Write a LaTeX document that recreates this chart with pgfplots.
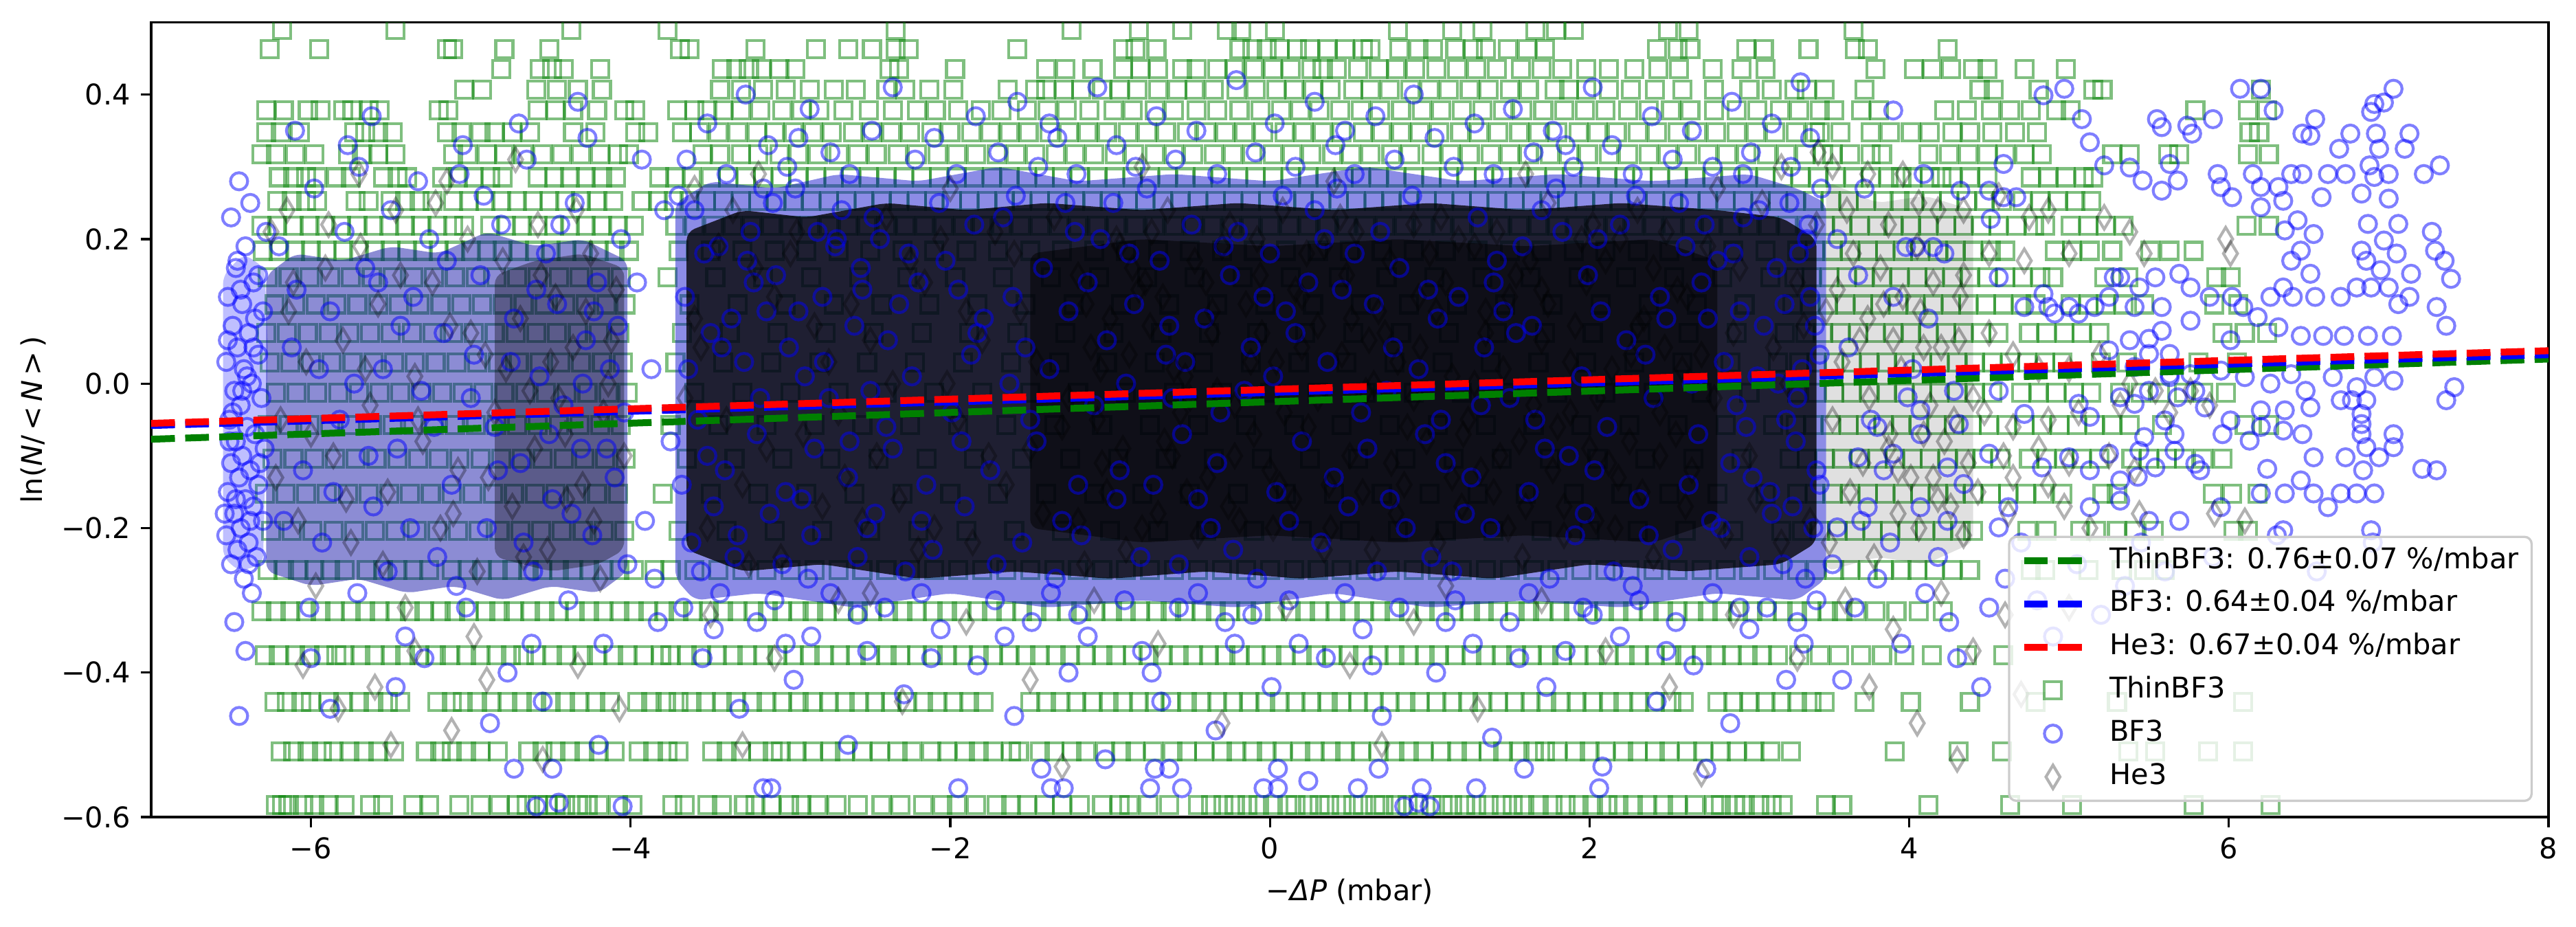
\documentclass[border=0pt]{standalone}
\usepackage{fontspec}
\setmainfont{DejaVu Sans}
\usepackage{pgfplots}
\pgfplotsset{compat=1.18}
\definecolor{mplgreen}{RGB}{0,128,0}
\definecolor{mplblue}{RGB}{0,0,255}
\definecolor{mplred}{RGB}{255,0,0}
\definecolor{navyA}{RGB}{0,0,160}
\definecolor{navyC}{RGB}{0,0,200}
\pgfplotsset{
 gsq/.style={only marks, mark=square, mark size=3bp, mark options={draw=mplgreen, draw opacity=0.5, line width=1bp}, forget plot},
 bci/.style={only marks, mark=o, mark size=3bp, mark options={draw=mplblue, draw opacity=0.5, line width=1bp}, forget plot},
 hdi/.style={only marks, mark=diamond, mark size=4.1bp, mark options={xscale=0.8, draw=black, draw opacity=0.3, line width=1bp}, forget plot},
 fitline/.style={line width=2.4bp, dash pattern=on 8.3bp off 3.6bp, forget plot},
 dense/.style={draw=none, rounded corners=3bp, forget plot},
}
\begin{document}
\begin{tikzpicture}
\begin{axis}[
 width=837.4bp, height=277.6bp, scale only axis,
 xmin=-7, xmax=8, ymin=-0.6, ymax=0.5,
 xtick={-6,-4,-2,0,2,4,6,8}, xticklabels={−6,−4,−2,0,2,4,6,8},
 ytick={-0.6,-0.4,-0.2,0,0.2,0.4}, yticklabels={−0.6,−0.4,−0.2,0.0,0.2,0.4},
 tick align=outside, xtick pos=lower, ytick pos=left, major tick length=3.5bp,
 major tick style={black, line width=0.8bp},
 axis line style={line width=0.8bp},
 tick label style={font=\fontsize{10}{12}\selectfont},
 xticklabel style={inner sep=0pt, yshift=-3.5bp},
 yticklabel style={inner sep=0pt, xshift=-3.5bp},
 label style={font=\fontsize{10}{12}\selectfont},
 xlabel={−\textit{ΔP} (mbar)},
 ylabel={ln(\textit{N}/\,<\,\textit{N}\,>\,)},
 xlabel style={at={(axis description cs:0.5,-0.0933)}, anchor=center},
 ylabel style={at={(axis description cs:-0.0493,0.5)}, anchor=center},
 clip marker paths=true,
 legend cell align=left,
 legend style={at={(1,0)}, anchor=south east, xshift=-5.5bp, yshift=5.3bp,
   draw=black!20, fill=white, fill opacity=0.8, text opacity=1, rounded corners=2.5bp, line width=0.8bp,
   font=\fontsize{10}{12}\selectfont, inner xsep=4bp, inner ysep=3bp, row sep=4.4bp,
   nodes={inner sep=0.5bp, text height=7.5bp, text depth=2.2bp},
   /tikz/every odd column/.append style={column sep=8bp}},
]
\addlegendimage{legend image code/.code={\draw[mplgreen, sharp corners, line width=2.4bp, dash pattern=on 8.3bp off 3.6bp] (0bp,0bp) -- (20.2bp,0bp);}}
\addlegendentry{ThinBF3: 0.76±0.07 \%/mbar}
\addlegendimage{legend image code/.code={\draw[mplblue, sharp corners, line width=2.4bp, dash pattern=on 8.3bp off 3.6bp] (0bp,0bp) -- (20.2bp,0bp);}}
\addlegendentry{BF3: 0.64±0.04 \%/mbar}
\addlegendimage{legend image code/.code={\draw[mplred, sharp corners, line width=2.4bp, dash pattern=on 8.3bp off 3.6bp] (0bp,0bp) -- (20.2bp,0bp);}}
\addlegendentry{He3: 0.67±0.04 \%/mbar}
\addlegendimage{legend image code/.code={\draw[mplgreen, sharp corners, draw opacity=0.5, line width=1bp] (7.1bp,-3bp) rectangle (13.1bp,3bp);}}
\addlegendentry{ThinBF3}
\addlegendimage{legend image code/.code={\draw[mplblue, draw opacity=0.5, line width=1bp] (10.1bp,0bp) circle[radius=3bp];}}
\addlegendentry{BF3}
\addlegendimage{legend image code/.code={\draw[black, sharp corners, draw opacity=0.3, line width=1bp] (10.1bp,4.1bp) -- (12.56bp,0bp) -- (10.1bp,-4.1bp) -- (7.64bp,0bp) -- cycle;}}
\addlegendentry{He3}

% ---------------- ThinBF3 : quantised rows ----------------
\addplot[gsq] table[header=false, x index=0, y expr=-0.5835] {
-6.22
-6.18
-6.14
-6.05
-5.98
-5.89
-5.79
-5.63
-5.55
-5.36
-5.26
-5.07
-4.94
-4.82
-4.71
-4.65
-4.58
-4.52
-4.47
-4.41
-4.33
-4.27
-4.20
-4.08
-3.99
-3.74
-3.66
-3.52
-3.43
-3.29
-3.22
-3.12
-3.01
-2.93
-2.83
-2.71
-2.58
-2.43
-2.31
-2.17
-2.05
-1.96
-1.84
-1.71
-1.62
-1.52
-1.41
-1.30
-1.19
-1.05
-0.94
-0.88
-0.76
-0.63
-0.45
-0.37
-0.29
-0.22
-0.14
-0.07
0.02
0.11
0.16
0.24
0.31
0.37
0.45
0.52
0.58
0.66
0.71
0.79
0.86
0.93
1.01
1.08
1.14
1.22
1.29
1.37
1.45
1.52
1.59
1.68
1.77
1.85
1.93
2.02
2.11
2.18
2.27
2.36
2.46
2.55
2.66
2.78
2.82
2.91
2.97
3.06
3.14
3.21
3.48
3.58
4.12
4.63
5.02
5.78
6.26
};
\addplot[gsq] table[header=false, x index=0, y expr=-0.5094] {
-6.19
-6.11
-6.02
-5.93
-5.86
-5.76
-5.67
-5.58
-5.48
-5.28
-5.19
-5.12
-5.03
-4.94
-4.83
-4.64
-4.55
-4.47
-4.38
-4.29
-4.20
-4.10
-3.95
-3.86
-3.77
-3.70
-3.49
-3.40
-3.31
-3.20
-3.11
-3.06
-2.96
-2.86
-2.75
-2.66
-2.55
-2.44
-2.33
-2.24
-2.12
-2.02
-1.91
-1.82
-1.73
-1.62
-1.57
-1.44
-1.35
-1.24
-1.15
-1.03
-0.93
-0.84
-0.73
-0.61
-0.52
-0.41
-0.30
-0.21
-0.11
-0.02
0.08
0.19
0.28
0.38
0.47
0.57
0.68
0.78
0.87
0.96
1.07
1.17
1.26
1.37
1.46
1.56
1.65
1.72
1.80
1.91
2.00
2.10
2.21
2.30
2.41
2.50
2.61
2.71
2.82
2.92
3.03
3.13
3.26
3.91
4.31
4.58
5.37
5.54
5.87
6.09
};
\addplot[gsq] table[header=false, x index=0, y expr=-0.4404] {
-6.23
-6.15
-6.06
-6.00
-5.89
-5.80
-5.70
-5.61
-5.52
-5.44
-5.21
-5.12
-5.05
-4.96
-4.87
-4.77
-4.68
-4.59
-4.50
-4.41
-4.32
-4.22
-4.13
-3.96
-3.87
-3.78
-3.70
-3.62
-3.53
-3.43
-3.34
-3.24
-3.15
-3.05
-2.95
-2.86
-2.76
-2.66
-2.57
-2.47
-2.37
-2.27
-2.17
-2.08
-1.98
-1.88
-1.79
-1.50
-1.40
-1.31
-1.21
-1.11
-1.01
-0.92
-0.82
-0.72
-0.62
-0.52
-0.43
-0.33
-0.23
-0.13
-0.03
0.06
0.16
0.26
0.36
0.45
0.55
0.65
0.75
0.85
0.94
1.04
1.14
1.24
1.33
1.43
1.53
1.63
1.73
1.82
1.92
2.02
2.12
2.21
2.31
2.41
2.51
2.59
2.80
2.90
3.00
3.10
3.20
3.30
3.39
3.47
3.72
4.01
4.38
4.79
5.30
6.09
};
\addplot[gsq] table[header=false, x index=0, y expr=-0.3759] {
-6.29
-6.20
-6.10
-6.01
-5.92
-5.84
-5.79
-5.69
-5.60
-5.50
-5.41
-5.32
-5.22
-5.13
-5.03
-4.94
-4.84
-4.75
-4.67
-4.59
-4.49
-4.40
-4.30
-4.21
-4.11
-4.02
-3.92
-3.81
-3.75
-3.65
-3.56
-3.46
-3.36
-3.27
-3.17
-3.08
-2.98
-2.88
-2.79
-2.69
-2.59
-2.50
-2.40
-2.31
-2.21
-2.11
-2.02
-1.92
-1.82
-1.73
-1.63
-1.53
-1.44
-1.34
-1.25
-1.15
-1.05
-0.96
-0.86
-0.76
-0.67
-0.57
-0.48
-0.38
-0.28
-0.19
-0.09
0.01
0.10
0.20
0.29
0.39
0.49
0.58
0.68
0.78
0.87
0.97
1.06
1.16
1.26
1.35
1.45
1.54
1.64
1.74
1.83
1.93
2.03
2.12
2.22
2.31
2.41
2.51
2.60
2.70
2.79
2.89
2.99
3.08
3.18
3.31
3.44
3.56
3.70
3.83
3.97
4.14
4.36
4.59
};
\addplot[gsq] table[header=false, x index=0, y expr=-0.3153] {
-6.31
-6.22
-6.13
-6.03
-5.94
-5.85
-5.75
-5.66
-5.57
-5.47
-5.38
-5.29
-5.19
-5.10
-5.01
-4.91
-4.82
-4.73
-4.63
-4.54
-4.45
-4.35
-4.26
-4.17
-4.07
-3.98
-3.89
-3.79
-3.70
-3.61
-3.51
-3.42
-3.33
-3.23
-3.14
-3.05
-2.95
-2.86
-2.77
-2.67
-2.58
-2.49
-2.39
-2.30
-2.21
-2.11
-2.02
-1.93
-1.83
-1.74
-1.65
-1.55
-1.46
-1.37
-1.27
-1.18
-1.09
-0.99
-0.90
-0.81
-0.71
-0.62
-0.53
-0.43
-0.34
-0.25
-0.15
-0.06
0.03
0.13
0.22
0.31
0.41
0.50
0.59
0.69
0.78
0.87
0.97
1.06
1.15
1.25
1.34
1.43
1.53
1.62
1.71
1.81
1.90
1.99
2.09
2.18
2.27
2.37
2.46
2.55
2.65
2.74
2.83
2.93
3.02
3.11
3.21
3.30
3.39
3.49
3.58
3.67
3.79
3.92
4.06
4.21
};
\addplot[gsq] table[header=false, x index=0, y expr=-0.2581] {
-6.27
-6.17
-6.08
-5.98
-5.88
-5.79
-5.65
-5.55
-5.46
-5.36
-5.26
-5.12
-5.02
-4.93
-4.83
-4.74
-4.64
-4.55
-4.45
-4.36
-4.26
-4.17
-4.07
-3.98
-3.85
-3.75
-3.60
-3.45
-3.30
-3.15
-3.00
-2.85
-2.70
-2.55
-2.40
-2.25
-2.10
-1.95
-1.80
-1.65
-1.50
-1.35
-1.20
-1.05
-0.90
-0.75
-0.60
-0.45
-0.30
-0.15
0.00
0.15
0.30
0.45
0.60
0.75
0.90
1.05
1.20
1.35
1.50
1.65
1.80
1.95
2.10
2.25
2.40
2.55
2.70
2.85
3.00
3.15
3.30
3.42
3.53
3.63
3.74
3.84
3.95
4.05
4.16
4.27
4.38
4.76
4.85
5.12
5.33
5.47
5.60
};
\addplot[gsq] table[header=false, x index=0, y expr=-0.2040] {
-6.25
-6.12
-5.99
-5.86
-5.73
-5.60
-5.47
-5.34
-5.21
-5.08
-4.95
-4.82
-4.69
-4.56
-4.43
-4.30
-4.17
-4.04
-3.70
-3.40
-3.10
-2.80
-2.50
-2.20
-1.90
-1.60
-1.30
-1.00
-0.70
-0.40
-0.10
0.20
0.50
0.80
1.10
1.40
1.70
2.00
2.30
2.60
2.90
3.20
3.33
3.44
3.55
3.66
3.77
3.88
3.99
4.10
4.21
4.32
4.40
4.74
4.86
5.07
5.17
5.30
5.41
5.53
6.03
6.12
};
\addplot[gsq] table[header=false, x index=0, y expr=-0.1527] {
-6.29
-6.16
-6.03
-5.90
-5.77
-5.64
-5.51
-5.38
-5.25
-5.12
-4.99
-4.86
-4.73
-4.60
-4.47
-4.34
-4.21
-4.08
-3.80
-3.50
-3.20
-2.90
-2.60
-2.30
-2.00
-1.70
-1.40
-1.10
-0.80
-0.50
-0.20
0.10
0.40
0.70
1.00
1.30
1.60
1.90
2.20
2.50
2.80
3.10
3.30
3.41
3.52
3.63
3.74
3.85
3.96
4.07
4.18
4.29
4.40
4.51
4.62
4.73
4.84
4.96
5.21
5.30
5.90
6.02
6.18
};
\addplot[gsq] table[header=false, x index=0, y expr=-0.1040] {
-6.24
-6.11
-5.98
-5.85
-5.72
-5.59
-5.46
-5.33
-5.20
-5.07
-4.94
-4.81
-4.68
-4.55
-4.42
-4.29
-4.16
-4.03
-3.65
-3.35
-3.05
-2.75
-2.45
-2.15
-1.85
-1.55
-1.25
-0.95
-0.65
-0.35
-0.05
0.25
0.55
0.85
1.15
1.45
1.75
2.05
2.35
2.65
2.95
3.25
3.36
3.47
3.58
3.69
3.80
3.91
4.02
4.13
4.24
4.35
4.46
4.57
4.75
4.86
4.97
5.08
5.19
5.39
5.50
5.61
5.72
5.84
5.96
};
\addplot[gsq] table[header=false, x index=0, y expr=-0.0574] {
-6.27
-6.14
-6.01
-5.88
-5.75
-5.62
-5.49
-5.36
-5.23
-5.10
-4.97
-4.84
-4.71
-4.58
-4.45
-4.32
-4.19
-4.06
-3.75
-3.45
-3.15
-2.85
-2.55
-2.25
-1.95
-1.65
-1.35
-1.05
-0.75
-0.45
-0.15
0.15
0.45
0.75
1.05
1.35
1.65
1.95
2.25
2.55
2.85
3.15
3.29
3.40
3.51
3.62
3.73
3.84
3.95
4.06
4.17
4.28
4.39
4.50
4.61
4.72
4.83
4.94
5.05
5.16
5.27
5.38
5.58
6.10
6.25
};
\addplot[gsq] table[header=false, x index=0, y expr=-0.0130] {
-6.22
-6.09
-5.96
-5.83
-5.70
-5.57
-5.44
-5.31
-5.18
-5.05
-4.92
-4.79
-4.66
-4.53
-4.40
-4.27
-4.14
-4.02
-3.60
-3.30
-3.00
-2.70
-2.40
-2.10
-1.80
-1.50
-1.20
-0.90
-0.60
-0.30
0.00
0.30
0.60
0.90
1.20
1.50
1.80
2.10
2.40
2.70
3.00
3.30
3.42
3.53
3.64
3.75
3.86
3.97
4.08
4.19
4.30
4.41
4.52
4.70
4.81
4.92
5.03
5.14
5.32
5.45
5.57
5.72
5.84
5.98
};
\addplot[gsq] table[header=false, x index=0, y expr=0.0296] {
-6.26
-6.13
-6.00
-5.87
-5.74
-5.61
-5.48
-5.35
-5.22
-5.09
-4.96
-4.83
-4.70
-4.57
-4.44
-4.31
-4.18
-4.05
-3.72
-3.42
-3.12
-2.82
-2.52
-2.22
-1.92
-1.62
-1.32
-1.02
-0.72
-0.42
-0.12
0.18
0.48
0.78
1.08
1.38
1.68
1.98
2.28
2.58
2.88
3.18
3.31
3.42
3.53
3.64
3.75
3.86
3.97
4.08
4.19
4.30
4.41
4.52
4.63
4.74
4.85
4.96
5.20
5.36
5.81
6.05
};
\addplot[gsq] table[header=false, x index=0, y expr=0.0704] {
-6.28
-6.15
-6.02
-5.89
-5.76
-5.63
-5.50
-5.37
-5.24
-5.11
-4.98
-4.85
-4.72
-4.59
-4.46
-4.33
-4.20
-4.07
-3.68
-3.38
-3.08
-2.78
-2.48
-2.18
-1.88
-1.58
-1.28
-0.98
-0.68
-0.38
-0.08
0.22
0.52
0.82
1.12
1.42
1.72
2.02
2.32
2.62
2.92
3.22
3.35
3.46
3.57
3.68
3.79
3.90
4.01
4.12
4.23
4.34
4.45
4.56
4.75
4.86
4.97
5.08
5.19
5.96
6.10
6.24
};
\addplot[gsq] table[header=false, x index=0, y expr=0.1096] {
-6.23
-6.10
-5.97
-5.84
-5.71
-5.58
-5.45
-5.32
-5.19
-5.06
-4.93
-4.80
-4.67
-4.54
-4.41
-4.28
-4.15
-4.03
-3.63
-3.33
-3.03
-2.73
-2.43
-2.13
-1.83
-1.53
-1.23
-0.93
-0.63
-0.33
-0.03
0.27
0.57
0.87
1.17
1.47
1.77
2.07
2.37
2.67
2.97
3.27
3.38
3.49
3.60
3.71
3.82
3.93
4.04
4.15
4.26
4.37
4.48
4.59
4.70
4.79
5.01
5.12
5.23
5.34
5.47
5.91
6.06
};
\addplot[gsq] table[header=false, x index=0, y expr=0.1474] {
-6.27
-6.14
-6.01
-5.88
-5.75
-5.62
-5.49
-5.36
-5.23
-5.10
-4.97
-4.84
-4.71
-4.58
-4.45
-4.32
-4.19
-4.06
-3.77
-3.47
-3.17
-2.87
-2.57
-2.27
-1.97
-1.67
-1.37
-1.07
-0.77
-0.47
-0.17
0.13
0.43
0.73
1.03
1.33
1.63
1.93
2.23
2.53
2.83
3.13
3.28
3.39
3.50
3.61
3.72
3.83
3.94
4.05
4.16
4.27
4.38
4.49
4.60
4.71
4.82
4.90
5.22
5.37
5.92
6.01
};
\addplot[gsq] table[header=false, x index=0, y expr=0.1837] {
-6.30
-6.20
-6.10
-6.00
-5.90
-5.80
-5.70
-5.60
-5.50
-5.40
-5.30
-5.20
-5.10
-5.00
-4.90
-4.80
-4.70
-4.60
-4.50
-4.40
-4.30
-4.20
-4.10
-4.01
-3.70
-3.50
-3.30
-3.10
-2.90
-2.70
-2.50
-2.30
-2.10
-1.90
-1.70
-1.50
-1.30
-1.10
-0.90
-0.70
-0.50
-0.30
-0.10
0.10
0.30
0.50
0.70
0.90
1.10
1.30
1.50
1.70
1.90
2.10
2.30
2.50
2.70
2.90
3.10
3.30
3.41
3.52
3.63
3.74
3.85
3.96
4.07
4.18
4.29
4.40
4.51
4.60
4.91
5.02
5.13
5.27
5.51
5.63
5.78
};
\addplot[gsq] table[header=false, x index=0, y expr=0.2188] {
-6.31
-6.21
-6.11
-6.01
-5.91
-5.81
-5.71
-5.61
-5.51
-5.41
-5.31
-5.21
-5.11
-5.04
-4.88
-4.78
-4.68
-4.58
-4.48
-4.38
-4.28
-4.18
-4.08
-3.98
-3.72
-3.60
-3.48
-3.36
-3.24
-3.12
-3.00
-2.88
-2.76
-2.64
-2.52
-2.40
-2.28
-2.16
-2.04
-1.92
-1.80
-1.68
-1.56
-1.44
-1.32
-1.20
-1.08
-0.96
-0.84
-0.72
-0.60
-0.48
-0.36
-0.24
-0.12
0.00
0.12
0.24
0.36
0.48
0.60
0.72
0.84
0.96
1.08
1.20
1.32
1.44
1.56
1.68
1.80
1.92
2.04
2.16
2.28
2.40
2.52
2.64
2.76
2.88
3.00
3.12
3.24
3.36
3.47
3.58
3.69
3.80
3.90
4.01
4.12
4.23
4.34
4.45
4.56
4.67
4.78
4.85
5.01
5.12
5.23
5.34
6.11
6.25
};
\addplot[gsq] table[header=false, x index=0, y expr=0.2527] {
-6.21
-6.12
-6.03
-5.96
-5.72
-5.64
-5.50
-5.41
-5.32
-5.24
-5.11
-5.01
-4.91
-4.81
-4.71
-4.61
-4.51
-4.41
-4.31
-4.21
-4.11
-3.93
-3.83
-3.73
-3.63
-3.53
-3.42
-3.31
-3.20
-3.09
-2.98
-2.87
-2.76
-2.65
-2.54
-2.43
-2.32
-2.21
-2.10
-1.99
-1.88
-1.77
-1.66
-1.55
-1.44
-1.33
-1.22
-1.11
-1.00
-0.89
-0.78
-0.67
-0.56
-0.45
-0.34
-0.23
-0.12
-0.01
0.10
0.21
0.32
0.43
0.54
0.65
0.76
0.87
0.98
1.09
1.20
1.31
1.42
1.53
1.64
1.75
1.86
1.97
2.08
2.19
2.30
2.41
2.52
2.63
2.74
2.85
2.96
3.07
3.18
3.29
3.40
3.51
3.62
3.73
3.84
3.94
4.03
4.14
4.25
4.36
4.47
4.58
4.71
4.82
4.93
5.04
5.14
};
\addplot[gsq] table[header=false, x index=0, y expr=0.2855] {
-6.20
-6.11
-6.03
-5.96
-5.84
-5.75
-5.55
-5.46
-5.40
-5.18
-5.08
-4.98
-4.88
-4.80
-4.58
-4.48
-4.38
-4.28
-4.18
-4.09
-3.82
-3.72
-3.62
-3.50
-3.39
-3.28
-3.17
-3.06
-2.95
-2.84
-2.73
-2.62
-2.51
-2.40
-2.29
-2.18
-2.07
-1.96
-1.85
-1.74
-1.63
-1.52
-1.41
-1.30
-1.19
-1.08
-0.97
-0.86
-0.75
-0.64
-0.53
-0.42
-0.31
-0.20
-0.09
0.02
0.13
0.24
0.35
0.46
0.57
0.68
0.79
0.90
1.01
1.12
1.23
1.34
1.45
1.56
1.67
1.78
1.89
2.00
2.11
2.22
2.33
2.44
2.55
2.66
2.77
2.88
2.99
3.10
3.21
3.32
3.43
3.54
3.65
3.76
3.87
3.95
4.02
4.13
4.20
4.27
4.38
4.49
4.76
4.87
4.98
5.09
5.15
};
\addplot[gsq] table[header=false, x index=0, y expr=0.3172] {
-6.31
-6.22
-6.10
-5.98
-5.77
-5.68
-5.58
-5.47
-5.11
-5.02
-4.90
-4.79
-4.67
-4.55
-4.43
-4.31
-4.19
-4.08
-4.01
-3.55
-3.44
-3.31
-3.20
-3.07
-2.95
-2.83
-2.70
-2.58
-2.46
-2.33
-2.21
-2.08
-1.96
-1.84
-1.71
-1.59
-1.47
-1.34
-1.22
-1.10
-0.97
-0.85
-0.72
-0.60
-0.48
-0.35
-0.23
-0.11
0.02
0.14
0.26
0.39
0.51
0.63
0.76
0.88
1.01
1.13
1.25
1.38
1.50
1.62
1.75
1.87
1.99
2.12
2.24
2.37
2.49
2.61
2.74
2.86
2.98
3.11
3.23
3.35
3.46
3.52
3.63
3.76
3.83
4.12
4.25
4.37
4.49
4.60
4.72
4.83
5.27
5.38
5.62
5.69
6.12
6.25
};
\addplot[gsq] table[header=false, x index=0, y expr=0.3480] {
-6.28
-6.19
-6.07
-5.73
-5.66
-5.58
-5.49
-5.15
-5.06
-4.94
-4.85
-4.74
-4.63
-4.36
-4.22
-3.97
-3.89
-3.68
-3.57
-3.45
-3.33
-3.21
-3.10
-2.98
-2.86
-2.74
-2.61
-2.49
-2.37
-2.25
-2.12
-2.00
-1.87
-1.75
-1.63
-1.51
-1.38
-1.26
-1.14
-1.02
-0.89
-0.77
-0.65
-0.52
-0.40
-0.28
-0.16
-0.04
0.09
0.21
0.33
0.45
0.58
0.70
0.82
0.94
1.06
1.19
1.31
1.43
1.56
1.68
1.80
1.93
2.05
2.17
2.30
2.42
2.55
2.67
2.79
2.92
3.04
3.16
3.29
3.41
3.44
3.57
3.76
3.88
4.01
4.13
4.27
4.38
4.52
4.66
4.80
6.13
6.19
};
\addplot[gsq] table[header=false, x index=0, y expr=0.3779] {
-6.28
-6.17
-6.02
-5.94
-5.80
-5.74
-5.64
-5.57
-5.20
-5.14
-4.58
-4.47
-4.36
-4.21
-4.04
-3.97
-3.71
-3.60
-3.52
-3.42
-3.31
-3.19
-3.05
-2.93
-2.82
-2.67
-2.51
-2.36
-2.21
-2.09
-1.95
-1.81
-1.68
-1.52
-1.39
-1.27
-1.13
-0.98
-0.86
-0.72
-0.60
-0.46
-0.33
-0.19
-0.06
0.07
0.19
0.31
0.44
0.57
0.69
0.82
0.95
1.07
1.20
1.33
1.46
1.58
1.71
1.84
1.97
2.10
2.24
2.37
2.51
2.63
2.78
2.92
3.05
3.19
3.31
3.44
3.53
3.70
3.81
4.22
4.36
4.51
4.63
4.76
4.92
5.01
5.79
6.12
6.24
};
\addplot[gsq] table[header=false, x index=0, y expr=0.4069] {
-5.04
-4.93
-4.59
-4.46
-4.33
-4.18
-3.44
-3.31
-3.17
-3.03
-2.88
-2.73
-2.59
-2.40
-2.28
-2.13
-1.98
-1.64
-1.47
-1.40
-1.29
-1.18
-1.05
-0.94
-0.83
-0.70
-0.58
-0.47
-0.35
-0.21
-0.09
0.04
0.15
0.27
0.38
0.52
0.63
0.75
0.88
1.00
1.12
1.25
1.37
1.50
1.62
1.78
1.87
1.98
2.12
2.26
2.41
2.58
2.78
3.00
3.14
3.28
3.36
3.47
3.72
4.44
4.53
4.81
5.15
5.21
6.20
};
\addplot[gsq] table[header=false, x index=0, y expr=0.4351] {
-4.81
-4.57
-4.49
-4.42
-4.19
-3.43
-3.34
-3.26
-3.18
-3.07
-2.97
-2.38
-2.32
-1.97
-1.40
-1.28
-1.11
-0.92
-0.81
-0.70
-0.55
-0.46
-0.33
-0.22
-0.10
0.02
0.13
0.26
0.33
0.42
0.55
0.68
0.79
0.91
1.04
1.17
1.29
1.42
1.57
1.70
1.83
1.98
2.12
2.28
2.43
2.56
2.77
2.95
3.10
3.79
4.03
4.14
4.26
4.40
4.49
4.72
4.98
};
\addplot[gsq] table[header=false, x index=0, y expr=0.4625] {
-6.26
-5.95
-5.15
-5.11
-4.79
-4.51
-3.69
-3.63
-3.22
-2.84
-2.64
-2.49
-2.34
-2.26
-1.58
-0.92
-0.84
-0.71
-0.19
-0.11
-0.02
0.06
0.17
0.25
0.36
0.47
0.58
0.63
0.81
0.93
1.02
1.16
1.27
1.35
1.49
1.61
1.72
2.42
2.55
2.63
2.98
3.09
3.37
3.66
3.74
4.24
};
\addplot[gsq] table[header=false, x index=0, y expr=0.4892] {
-6.18
-5.47
-4.37
-3.77
-2.34
-1.24
-0.82
-0.55
-0.27
-0.18
0.03
0.80
1.14
1.33
1.66
1.79
1.90
2.49
2.62
3.65
};

% ------- overlap of the densest markers: outlines -------
\addplot[dense, fill=mplblue, fill opacity=0.25] coordinates {(-6.55,-0.24) (-6.45,-0.26) (-6.30,-0.25) (-6.27,0.05) (-6.29,0.16) (-6.42,0.18) (-6.55,0.15)} --cycle;
\addplot[dense, fill=navyA, fill opacity=0.45] coordinates {(-6.28,-0.26) (-6.0,-0.28) (-5.7,-0.27) (-5.4,-0.29) (-5.1,-0.28) (-4.8,-0.30) (-4.5,-0.28) (-4.2,-0.29) (-4.02,-0.26) (-4.02,0.17) (-4.3,0.20) (-4.6,0.19) (-4.9,0.21) (-5.2,0.18) (-5.5,0.19) (-5.8,0.17) (-6.1,0.18) (-6.28,0.15)} --cycle;
\addplot[dense, fill=black, fill opacity=0.35] coordinates {(-4.85,-0.24) (-4.5,-0.26) (-4.2,-0.25) (-4.04,-0.23) (-4.04,0.16) (-4.3,0.18) (-4.6,0.17) (-4.85,0.15)} --cycle;
\addplot[dense, fill=navyC, fill opacity=0.45] coordinates {(-3.72,-0.27) (-3.6,-0.30) (-3.2,-0.29) (-2.6,-0.31) (-2.0,-0.29) (-1.4,-0.31) (-0.8,-0.30) (-0.2,-0.31) (0.4,-0.29) (1.0,-0.31) (1.6,-0.30) (2.2,-0.31) (2.8,-0.29) (3.3,-0.30) (3.48,-0.27) (3.48,0.25) (3.3,0.27) (3.0,0.29) (2.4,0.28) (1.8,0.29) (1.2,0.28) (0.6,0.30) (0.0,0.28) (-0.6,0.29) (-1.2,0.28) (-1.7,0.30) (-2.2,0.28) (-2.7,0.29) (-3.1,0.27) (-3.5,0.28) (-3.72,0.25)} --cycle;
\addplot[dense, fill=black, fill opacity=0.78] coordinates {(-3.65,-0.23) (-3.3,-0.26) (-2.8,-0.25) (-2.2,-0.27) (-1.6,-0.26) (-1.0,-0.27) (-0.4,-0.26) (0.2,-0.27) (0.8,-0.26) (1.4,-0.27) (2.0,-0.25) (2.6,-0.26) (3.2,-0.25) (3.42,-0.22) (3.42,0.20) (3.2,0.23) (2.8,0.24) (2.2,0.25) (1.6,0.24) (1.0,0.25) (0.4,0.24) (-0.2,0.25) (-0.8,0.24) (-1.4,0.25) (-1.9,0.24) (-2.4,0.25) (-2.9,0.23) (-3.3,0.24) (-3.65,0.21)} --cycle;
\addplot[dense, fill=black, fill opacity=0.5] coordinates {(-1.5,-0.20) (-0.8,-0.22) (0.0,-0.21) (0.8,-0.22) (1.6,-0.21) (2.4,-0.22) (2.8,-0.19) (2.8,0.17) (2.4,0.20) (1.6,0.19) (0.8,0.20) (0.0,0.19) (-0.8,0.20) (-1.5,0.18)} --cycle;
\addplot[dense, fill=black, fill opacity=0.12] coordinates {(3.48,-0.26) (3.8,-0.24) (4.1,-0.25) (4.4,-0.22) (4.4,0.24) (4.1,0.26) (3.8,0.25) (3.48,0.28)} --cycle;

% ---------------- BF3 ----------------
\addplot[bci] table[header=false] {
-6.45 0.28
-6.38 0.25
-6.50 0.23
-6.41 0.19
-6.47 0.16
-6.36 0.14
-6.52 0.12
-6.43 0.11
-6.30 0.10
-6.49 0.08
-6.39 0.07
-6.46 0.05
-6.33 0.04
-6.53 0.03
-6.42 0.02
-6.37 0.00
-6.48 -0.01
-6.31 -0.02
-6.44 -0.03
-6.51 -0.05
-6.40 -0.06
-6.35 -0.07
-6.47 -0.08
-6.29 -0.09
-6.43 -0.10
-6.50 -0.11
-6.38 -0.12
-6.45 -0.13
-6.33 -0.14
-6.52 -0.15
-6.41 -0.16
-6.36 -0.17
-6.48 -0.18
-6.30 -0.19
-6.44 -0.20
-6.53 -0.21
-6.39 -0.22
-6.46 -0.23
-6.34 -0.24
-6.50 -0.25
-6.42 -0.27
-6.37 -0.29
-6.48 -0.33
-6.41 -0.37
-6.45 -0.46
-6.52 0.06
-6.35 0.09
-6.49 -0.04
-6.40 0.01
-6.44 0.13
-6.32 -0.11
-6.47 -0.16
-6.38 -0.19
-6.51 -0.08
-6.43 -0.01
-6.36 0.05
-6.46 0.17
-6.54 -0.18
-6.39 -0.25
-6.33 0.15
-6.28 0.21
-6.20 0.19
-6.12 0.05
-6.05 -0.12
-5.98 0.27
-5.93 -0.22
-5.88 0.10
-5.82 -0.05
-5.77 0.33
-5.71 -0.29
-5.66 0.16
-5.61 -0.17
-5.55 0.02
-5.50 0.24
-5.46 -0.09
-5.41 -0.35
-5.36 0.12
-5.31 -0.01
-5.26 0.20
-5.21 -0.24
-5.17 0.07
-5.12 -0.14
-5.07 0.29
-5.03 -0.31
-4.98 0.04
-4.94 0.15
-4.90 -0.20
-4.85 -0.06
-4.81 0.22
-4.77 -0.40
-4.73 0.09
-4.69 -0.11
-4.65 0.31
-4.61 -0.26
-4.57 0.01
-4.53 0.18
-4.49 -0.16
-4.46 0.11
-4.42 -0.03
-4.39 -0.30
-4.35 0.25
-4.31 -0.09
-4.28 0.06
-4.24 -0.21
-4.21 0.14
-4.17 -0.36
-4.13 0.02
-4.10 -0.13
-4.06 0.20
-4.02 -0.25
-6.17 -0.19
-6.09 0.13
-6.01 -0.31
-5.95 0.02
-5.86 -0.15
-5.79 0.21
-5.73 0.00
-5.64 -0.10
-5.58 0.14
-5.52 -0.26
-5.44 0.08
-5.38 -0.20
-5.33 0.28
-5.23 -0.06
-5.15 0.17
-5.09 -0.28
-5.00 -0.02
-4.92 0.26
-4.83 -0.12
-4.75 0.03
-4.67 -0.22
-4.59 0.13
-4.51 -0.07
-4.44 0.22
-4.37 -0.18
-4.30 0.00
-4.23 0.10
-4.15 -0.09
-4.08 0.08
-4.04 -0.04
-6.10 0.35
-5.88 -0.45
-5.62 0.37
-5.47 -0.42
-5.29 -0.38
-5.05 0.33
-4.88 -0.47
-4.70 0.36
-4.55 -0.44
-4.45 -0.58
-4.33 0.39
-4.20 -0.50
-6.00 -0.38
-5.70 0.30
-4.62 -0.36
-4.27 0.34
-4.59 -0.585
-4.05 -0.585
-4.73 -0.533
-4.49 -0.533
-3.96 0.14
-3.91 -0.19
-3.87 0.02
-3.83 -0.33
-3.79 0.24
-3.75 -0.08
-3.93 0.31
-3.85 -0.27
-3.66 0.12
-3.33 -0.21
-3.01 0.05
-2.68 0.24
-2.36 -0.09
-2.03 0.17
-1.71 -0.25
-1.38 0.02
-1.06 0.20
-0.73 -0.14
-0.41 0.09
-0.08 -0.27
0.24 0.14
0.57 -0.04
0.89 0.26
1.22 -0.18
1.54 0.07
1.87 -0.10
2.19 0.22
2.52 -0.23
2.84 0.03
3.17 0.16
3.42 -0.12
-3.58 -0.05
-3.25 0.21
-2.93 -0.16
-2.60 0.08
-2.28 -0.26
-1.95 0.13
-1.63 0.00
-1.30 -0.19
-0.98 0.25
-0.65 0.04
-0.33 -0.11
0.00 0.18
0.32 -0.22
0.65 0.11
0.97 -0.07
1.30 0.23
1.62 -0.15
1.95 0.01
2.27 -0.28
2.60 0.19
2.92 -0.03
3.25 0.25
3.40 -0.20
-3.70 0.26
-3.41 -0.12
-3.09 0.15
-2.76 -0.02
-2.44 0.20
-2.11 -0.23
-1.79 0.09
-1.46 -0.08
-1.14 0.14
-0.81 -0.24
-0.49 0.22
-0.16 -0.01
0.16 0.07
0.49 -0.17
0.81 0.16
1.14 -0.26
1.46 0.10
1.79 0.27
2.11 -0.06
2.44 0.12
2.76 -0.19
3.09 0.08
3.36 0.20
-3.62 -0.22
-3.29 0.03
-2.97 0.27
-2.64 -0.13
-2.32 0.11
-1.99 -0.04
-1.67 0.23
-1.34 -0.27
-1.02 0.06
-0.69 0.17
-0.37 -0.20
-0.04 0.12
0.28 0.24
0.61 -0.09
0.93 0.02
1.26 -0.13
1.58 0.19
1.91 -0.21
2.23 0.06
2.56 0.25
2.88 -0.11
3.21 -0.25
3.44 0.04
-3.54 0.18
-3.21 -0.07
-2.89 -0.27
-2.56 0.16
-2.24 0.01
-1.91 -0.17
-1.59 0.26
-1.26 0.10
-0.94 -0.12
-0.61 -0.02
-0.29 0.19
0.04 -0.15
0.36 0.03
0.69 0.21
1.01 -0.24
1.34 0.05
1.66 -0.05
1.99 0.15
2.31 -0.16
2.64 0.00
2.96 0.23
3.29 -0.08
3.38 0.12
-3.68 -0.14
-3.37 0.09
-3.05 -0.25
-2.72 0.19
-2.40 -0.06
-2.07 0.25
-1.75 -0.12
-1.42 0.16
-1.10 -0.03
-0.77 0.27
-0.45 -0.16
-0.12 0.05
0.20 -0.08
0.53 0.18
0.85 -0.20
1.18 0.12
1.50 -0.02
1.83 0.21
2.15 -0.26
2.48 0.09
2.80 0.17
3.13 -0.15
3.33 0.02
-3.50 0.07
-3.17 0.27
-2.85 -0.09
-2.52 -0.20
-2.20 0.14
-1.87 0.04
-1.55 -0.22
-1.22 0.21
-0.90 0.00
-0.57 -0.25
-0.25 0.15
0.08 0.26
0.40 -0.13
0.73 -0.01
1.05 0.09
1.38 -0.20
1.70 0.24
2.03 -0.12
2.35 0.04
2.68 -0.07
3.00 -0.24
3.31 0.18
-3.64 0.02
-3.45 0.19
-3.13 -0.18
-2.80 0.12
-2.48 0.23
-2.15 -0.14
-1.83 0.07
-1.50 -0.05
-1.18 -0.21
-0.85 0.11
-0.53 0.03
-0.20 0.21
0.12 -0.19
0.45 0.13
0.77 0.05
1.10 -0.11
1.42 0.17
1.75 -0.27
2.07 0.10
2.40 -0.02
2.72 0.22
3.05 0.01
3.27 -0.17
-3.56 -0.26
-3.23 0.14
-2.91 0.01
-2.58 -0.24
-2.26 0.18
-1.93 -0.08
-1.61 0.12
-1.28 0.25
-0.96 -0.16
-0.63 0.08
-0.31 -0.04
0.02 0.01
0.34 0.20
0.67 -0.26
0.99 0.13
1.32 -0.03
1.64 0.08
1.97 -0.18
2.29 0.26
2.62 -0.14
2.94 0.10
3.23 -0.05
3.45 0.27
-3.48 -0.17
-3.15 0.10
-2.83 0.21
-2.50 -0.01
-2.18 -0.19
-1.85 0.22
-1.53 0.05
-1.20 -0.14
-0.88 0.18
-0.55 -0.07
-0.23 -0.23
0.10 0.10
0.42 0.27
0.75 -0.16
1.07 -0.05
1.40 0.14
1.72 -0.09
2.05 0.20
2.37 -0.21
2.70 0.14
3.02 -0.13
3.35 -0.27
-3.60 0.24
-3.52 -0.10
-3.43 0.05
-3.35 -0.24
-3.27 0.17
-3.19 -0.02
-3.11 0.25
-3.03 -0.15
-2.95 0.10
-2.87 -0.21
-2.79 0.03
-2.71 0.20
-2.63 -0.08
-2.55 0.13
-2.47 -0.18
-2.39 0.06
2.74 0.09
2.82 -0.20
2.90 0.18
2.98 -0.06
3.06 0.24
3.14 -0.18
3.22 0.11
3.30 -0.02
3.37 0.22
3.44 -0.14
3.18 0.00
3.41 0.08
-3.65 0.31
-3.52 0.36
-3.40 0.29
-3.28 0.40
-3.14 0.33
-3.02 0.30
-2.88 0.38
-2.75 0.32
-2.63 0.29
-2.49 0.35
-2.36 0.41
-2.22 0.31
-2.10 0.34
-1.96 0.29
-1.84 0.37
-1.70 0.32
-1.58 0.39
-1.45 0.30
-1.33 0.34
-1.21 0.29
-1.08 0.41
-0.96 0.33
-0.84 0.30
-0.71 0.37
-0.59 0.31
-0.46 0.35
-0.33 0.29
-0.21 0.42
-0.09 0.32
0.03 0.36
0.16 0.30
0.28 0.39
0.41 0.33
0.53 0.29
0.66 0.37
0.78 0.31
0.90 0.40
1.03 0.34
1.15 0.30
1.28 0.36
1.40 0.29
1.52 0.38
1.65 0.32
1.77 0.35
1.90 0.30
2.02 0.41
2.14 0.33
2.27 0.29
2.39 0.37
2.52 0.31
2.64 0.35
2.77 0.30
2.89 0.39
3.01 0.32
3.14 0.36
3.26 0.30
3.38 0.34
-2.95 0.34
-1.38 0.36
0.47 0.35
1.85 0.33
2.96 0.29
-3.67 -0.31
-3.55 -0.38
-3.44 -0.29
-3.32 -0.45
-3.21 -0.33
-3.10 -0.30
-2.98 -0.41
-2.87 -0.35
-2.75 -0.29
-2.64 -0.50
-2.52 -0.37
-2.41 -0.31
-2.29 -0.43
-2.18 -0.29
-2.06 -0.34
-1.95 -0.56
-1.83 -0.39
-1.72 -0.30
-1.60 -0.46
-1.49 -0.33
-1.37 -0.29
-1.26 -0.40
-1.14 -0.35
-1.03 -0.52
-0.91 -0.30
-0.80 -0.37
-0.68 -0.44
-0.57 -0.31
-0.45 -0.29
-0.34 -0.48
-0.22 -0.36
-0.11 -0.32
0.01 -0.42
0.12 -0.30
0.24 -0.55
0.35 -0.38
0.47 -0.29
0.58 -0.34
0.70 -0.46
0.81 -0.31
0.93 -0.58
1.04 -0.40
1.16 -0.30
1.27 -0.36
1.39 -0.49
1.50 -0.33
1.62 -0.29
1.73 -0.42
1.85 -0.37
1.96 -0.31
2.08 -0.53
2.19 -0.35
2.31 -0.30
2.42 -0.44
2.54 -0.33
2.65 -0.39
2.77 -0.29
2.88 -0.47
3.00 -0.34
3.11 -0.31
3.23 -0.41
3.34 -0.36
3.42 -0.30
-3.48 -0.34
-3.03 -0.36
-2.58 -0.32
-2.12 -0.38
-1.66 -0.35
-1.20 -0.32
-0.74 -0.40
-0.28 -0.33
0.18 -0.36
0.64 -0.39
1.10 -0.33
1.56 -0.38
2.02 -0.32
2.48 -0.37
2.94 -0.31
3.30 -0.33
-3.17 -0.56
-3.12 -0.56
-1.43 -0.533
-1.37 -0.56
-1.29 -0.56
-0.75 -0.56
-0.72 -0.533
-0.63 -0.533
-0.55 -0.56
-0.04 -0.56
0.05 -0.56
0.05 -0.533
0.55 -0.56
0.68 -0.533
0.84 -0.585
0.95 -0.56
1.00 -0.585
1.29 -0.56
1.59 -0.533
2.06 -0.56
2.73 -0.533
3.52 -0.25
3.66 -0.31
3.80 -0.27
3.95 -0.36
4.10 -0.29
4.25 -0.33
3.58 -0.41
3.88 -0.22
4.18 -0.24
3.70 -0.19
3.62 0.05
3.76 -0.05
3.90 0.12
4.02 0.02
3.55 0.20
3.72 0.27
3.84 -0.12
4.12 0.09
3.68 0.15
4.22 0.18
4.59 0.258
4.51 0.228
4.67 0.258
4.32 0.267
4.50 0.267
4.09 0.290
3.90 0.378
4.59 0.304
4.04 0.189
4.15 0.189
3.98 0.189
4.56 0.147
5.28 0.147
5.41 0.106
5.00 0.106
4.87 0.106
5.25 0.046
5.50 0.041
5.41 0.023
5.63 0.013
5.76 0.013
5.32 -0.019
5.06 -0.028
5.13 -0.046
4.72 -0.042
4.56 -0.010
4.28 -0.010
3.99 -0.019
4.07 -0.037
4.31 -0.056
3.80 -0.060
3.68 -0.102
4.07 -0.070
3.90 -0.097
4.24 -0.116
4.34 -0.139
4.50 -0.097
4.83 -0.116
5.00 -0.102
5.13 -0.120
4.62 -0.171
4.07 -0.171
3.74 -0.171
3.55 -0.199
4.24 -0.190
4.56 -0.199
3.32 0.417
4.84 0.399
4.97 0.408
5.08 0.366
5.13 0.334
5.55 0.366
5.58 0.355
5.74 0.357
5.77 0.346
5.90 0.366
6.07 0.408
6.20 0.408
6.28 0.378
6.54 0.366
6.46 0.346
6.51 0.343
6.69 0.325
6.76 0.346
6.91 0.387
6.97 0.389
7.03 0.408
6.89 0.376
6.92 0.346
6.94 0.325
7.13 0.346
7.10 0.325
7.32 0.302
7.22 0.290
6.88 0.302
6.91 0.286
7.00 0.290
6.73 0.290
6.62 0.290
6.46 0.290
6.39 0.290
5.93 0.290
6.15 0.290
5.22 0.302
5.38 0.299
5.63 0.304
5.68 0.281
5.46 0.281
5.58 0.267
5.95 0.272
6.02 0.258
6.20 0.272
6.31 0.272
6.34 0.253
6.20 0.244
6.58 0.258
6.83 0.263
7.00 0.256
6.87 0.221
7.06 0.221
7.27 0.210
6.97 0.198
7.05 0.180
7.29 0.184
7.35 0.170
7.14 0.152
7.39 0.145
6.95 0.157
6.86 0.170
6.83 0.184
6.43 0.226
6.35 0.212
6.53 0.207
6.45 0.184
6.39 0.170
6.51 0.152
6.34 0.133
6.26 0.120
6.40 0.120
6.54 0.120
6.70 0.120
6.80 0.133
6.89 0.133
7.00 0.133
7.06 0.110
7.13 0.120
7.30 0.106
7.36 0.080
7.02 0.066
6.87 0.066
6.72 0.066
6.59 0.066
6.45 0.066
6.31 0.078
6.18 0.092
6.09 0.106
6.02 0.120
6.01 0.060
5.88 0.120
5.76 0.133
5.69 0.152
5.54 0.147
5.44 0.133
5.32 0.147
5.25 0.120
5.16 0.106
5.06 0.097
4.91 0.097
4.84 0.124
4.72 0.106
5.58 0.106
5.76 0.087
5.58 0.073
5.50 0.062
5.38 0.060
5.63 0.041
5.95 0.018
6.10 0.009
6.26 0.000
6.39 0.013
6.48 -0.010
6.65 0.009
6.77 -0.023
6.91 0.009
7.03 0.004
7.41 -0.005
7.36 -0.023
6.80 -0.005
6.86 -0.023
6.83 -0.042
6.70 -0.023
6.51 -0.033
6.35 -0.037
6.20 -0.037
6.20 -0.060
6.34 -0.065
6.46 -0.070
6.83 -0.070
7.03 -0.070
7.03 -0.088
6.86 -0.088
6.83 -0.056
6.53 -0.102
6.73 -0.102
6.94 -0.102
6.84 -0.120
7.21 -0.118
7.30 -0.120
6.24 -0.118
6.13 -0.079
6.01 -0.051
5.96 -0.070
5.85 -0.033
5.79 -0.010
5.63 0.009
5.68 -0.019
5.50 -0.010
5.41 -0.028
5.60 -0.051
5.47 -0.074
5.44 -0.093
5.66 -0.070
5.66 -0.093
5.79 -0.111
5.82 -0.120
5.54 -0.116
5.43 -0.129
5.25 -0.097
5.32 -0.134
6.45 -0.134
6.53 -0.152
6.70 -0.152
6.80 -0.152
6.91 -0.152
6.62 -0.171
6.20 -0.152
6.35 -0.152
5.13 -0.171
5.32 -0.162
5.69 -0.190
5.50 -0.190
5.95 -0.171
6.89 -0.203
6.34 -0.203
4.30 -0.38
4.45 -0.42
4.50 -0.31
4.60 -0.27
4.80 -0.30
4.90 -0.35
5.05 -0.25
5.20 -0.32
5.35 -0.28
5.45 -0.22
5.90 -0.24
6.30 -0.21
6.55 -0.26
6.90 -0.22
4.70 -0.22
5.60 -0.26
};

% ---------------- He3 ----------------
\addplot[hdi] table[header=false] {
-6.25 0.21
-6.19 -0.05
-6.14 0.10
-6.08 -0.19
-6.03 0.03
-5.97 -0.28
-5.91 0.16
-5.86 -0.10
-5.80 0.06
-5.75 -0.22
-5.69 0.19
-5.63 -0.03
-5.58 0.11
-5.52 -0.15
-5.47 0.24
-5.41 -0.31
-5.35 0.01
-5.30 -0.08
-5.24 0.14
-5.19 -0.20
-5.13 0.08
-5.08 -0.12
-5.02 0.20
-4.96 -0.26
-4.91 0.04
-4.85 -0.04
-4.80 0.17
-4.74 -0.17
-4.69 0.09
-4.63 -0.01
-4.58 0.22
-4.52 -0.23
-4.47 0.12
-4.41 -0.07
-4.36 0.05
-4.30 -0.14
-4.25 0.18
-4.19 -0.27
-4.14 0.00
-4.09 0.13
-4.04 -0.10
-6.22 -0.13
-6.11 0.14
-6.00 -0.07
-5.89 0.22
-5.78 -0.16
-5.66 0.02
-5.55 -0.25
-5.44 0.15
-5.33 -0.05
-5.22 0.25
-5.11 -0.18
-5.00 0.07
-4.89 -0.13
-4.78 0.02
-4.67 -0.24
-4.56 0.15
-4.45 -0.02
-4.34 0.24
-4.23 -0.19
-4.12 0.06
-4.60 -0.09
-4.50 0.03
-4.40 -0.16
-4.28 0.10
-4.17 -0.04
-6.05 -0.39
-5.83 -0.45
-5.60 -0.42
-5.35 -0.37
-5.12 -0.48
-4.90 -0.41
-4.55 -0.52
-4.33 -0.39
-4.07 -0.45
-5.70 0.29
-5.15 0.28
-4.72 0.31
-6.15 0.24
-5.50 -0.50
-4.98 -0.35
-3.60 0.09
-3.30 -0.14
-3.00 0.18
-2.70 -0.04
-2.40 0.23
-2.10 -0.20
-1.80 0.06
-1.50 -0.09
-1.20 0.15
-0.90 -0.23
-0.60 0.02
-0.30 0.19
0.00 -0.12
0.30 0.08
0.60 -0.01
0.90 0.22
1.20 -0.17
1.50 0.12
1.80 -0.06
2.10 0.17
2.40 -0.24
2.70 0.04
3.00 -0.10
3.30 0.14
-3.52 -0.20
-3.22 0.16
-2.92 -0.07
-2.62 0.11
-2.32 -0.16
-2.02 0.00
-1.72 0.21
-1.42 -0.18
-1.12 0.05
-0.82 0.13
-0.52 -0.15
-0.22 -0.03
0.08 0.24
0.38 -0.20
0.68 0.10
0.98 -0.08
1.28 0.19
1.58 -0.24
1.88 0.03
2.18 -0.13
2.48 0.21
2.78 -0.02
3.08 0.25
3.38 -0.19
-3.66 -0.02
-3.36 0.24
-3.06 -0.24
-2.76 0.03
-2.46 -0.10
-2.16 0.14
-1.86 -0.22
-1.56 0.10
-1.26 -0.02
-0.96 0.20
-0.66 -0.08
-0.36 0.07
-0.06 0.15
0.24 -0.06
0.54 0.21
0.84 -0.14
1.14 0.01
1.44 -0.10
1.74 0.25
2.04 -0.19
2.34 0.09
2.64 -0.12
2.94 0.16
3.24 0.00
-3.45 0.19
-3.15 -0.09
-2.85 0.08
-2.55 -0.19
-2.25 0.17
-1.95 -0.05
-1.65 -0.14
-1.35 0.23
-1.05 -0.11
-0.75 0.08
-0.45 -0.21
-0.15 0.11
0.15 -0.16
0.45 0.04
0.75 0.17
1.05 -0.22
1.35 0.07
1.65 -0.03
1.95 0.20
2.25 -0.08
2.55 0.13
2.85 -0.21
3.15 0.05
3.42 0.22
-3.56 0.05
-3.26 -0.25
-2.96 0.21
-2.66 -0.13
-2.36 0.00
-2.06 0.20
-1.76 -0.10
-1.46 0.03
-1.16 -0.25
-0.86 0.16
-0.56 -0.04
-0.26 -0.17
0.04 0.03
0.34 0.19
0.64 -0.23
0.94 0.05
1.24 -0.05
1.54 0.15
1.84 -0.17
2.14 0.02
2.44 -0.04
2.74 0.19
3.04 -0.16
3.34 0.08
-3.40 -0.05
-3.10 0.12
-2.80 -0.17
-2.50 0.06
-2.20 -0.23
-1.90 0.10
-1.60 0.18
-1.30 -0.06
-1.00 0.09
-0.70 -0.18
-0.40 0.14
-0.10 -0.07
0.20 0.12
0.50 -0.10
0.80 0.03
1.10 0.14
1.40 -0.15
1.70 0.06
2.00 -0.09
2.30 0.24
2.60 -0.17
2.90 0.07
3.20 -0.22
-1.15 0.11
-1.02 -0.15
-0.88 0.04
-0.74 0.21
-0.61 -0.10
-0.47 0.17
-0.33 -0.01
-0.19 -0.19
-0.05 0.07
0.09 -0.04
0.23 0.18
0.37 -0.14
0.51 0.09
0.65 0.00
0.79 -0.18
0.93 0.12
1.07 0.23
1.21 -0.07
1.35 0.10
1.49 -0.20
1.63 0.17
1.77 -0.12
1.91 0.08
2.05 -0.02
2.19 0.20
2.33 -0.15
2.47 0.05
2.61 0.12
-1.08 -0.05
-0.94 0.19
-0.80 -0.20
-0.67 0.12
-0.53 0.01
-0.39 -0.13
-0.25 0.22
-0.12 0.03
0.02 -0.20
0.16 0.13
0.30 -0.02
0.44 0.23
0.58 -0.15
0.72 0.07
0.86 -0.06
1.00 0.18
1.14 -0.13
1.28 0.00
1.42 0.21
1.56 -0.08
1.70 0.13
1.84 -0.21
1.98 0.14
2.12 -0.11
2.26 0.04
2.40 0.16
2.54 -0.07
-1.20 -0.19
-1.06 0.02
-0.92 -0.09
-0.78 0.14
-0.64 0.24
-0.50 -0.02
-0.36 0.10
-0.22 -0.10
-0.08 0.20
0.06 -0.14
0.20 0.05
0.34 -0.23
0.48 0.15
0.62 0.06
0.76 -0.11
0.90 -0.02
1.04 0.10
1.18 0.20
1.32 -0.12
1.46 0.02
1.60 -0.17
1.74 0.11
1.88 -0.04
2.02 0.22
2.16 -0.20
2.30 0.08
2.44 -0.10
2.58 0.02
-3.50 -0.32
-3.10 -0.38
-2.70 -0.30
-2.30 -0.44
-1.90 -0.33
-1.50 -0.41
-1.10 -0.30
-0.70 -0.36
-0.30 -0.47
0.10 -0.31
0.50 -0.39
0.90 -0.33
1.30 -0.45
1.70 -0.30
2.10 -0.37
2.50 -0.42
2.90 -0.32
3.30 -0.38
-3.30 -0.50
-1.30 -0.53
0.70 -0.50
2.70 -0.54
-2.50 -0.29
1.10 -0.28
-3.20 0.29
-2.00 0.27
-0.80 0.30
0.40 0.28
1.60 0.29
2.80 0.27
-3.60 0.27
3.20 0.30
3.52 0.30
3.74 0.29
3.96 0.29
4.06 0.25
4.18 0.24
4.34 0.24
4.56 0.26
4.75 0.23
4.87 0.24
5.22 0.23
5.38 0.21
5.47 0.18
5.00 0.18
4.72 0.17
4.50 0.18
4.34 0.15
4.15 0.14
3.96 0.12
3.84 0.11
3.74 0.09
3.90 0.06
4.09 0.05
4.31 0.06
4.50 0.07
4.65 0.04
4.81 0.02
5.00 0.02
5.19 0.04
5.38 0.00
5.54 -0.01
5.76 -0.01
5.88 -0.03
5.98 0.20
6.01 0.18
5.63 -0.04
5.32 -0.03
5.06 -0.04
4.87 -0.05
4.65 -0.06
4.47 -0.04
4.28 -0.05
4.09 -0.07
3.87 -0.09
3.71 -0.11
3.93 -0.12
4.15 -0.13
4.37 -0.11
4.59 -0.10
4.81 -0.09
5.00 -0.11
5.25 -0.10
5.41 -0.12
4.87 -0.14
4.65 -0.13
4.43 -0.15
4.18 -0.16
3.93 -0.18
4.06 -0.20
4.34 -0.21
4.62 -0.18
4.97 -0.17
5.13 -0.20
5.44 -0.18
5.91 -0.18
6.10 -0.19
3.61 0.24
3.43 0.32
3.87 0.22
3.65 0.18
3.55 0.13
3.48 0.10
3.52 -0.05
3.58 0.03
3.63 -0.15
3.69 0.06
3.75 -0.02
3.82 0.16
3.88 -0.07
3.95 0.02
4.01 -0.13
4.07 0.10
4.13 -0.03
4.20 0.05
4.26 -0.17
4.32 0.12
3.50 -0.22
3.78 -0.24
4.05 0.19
4.40 -0.02
4.22 -0.08
3.60 -0.30
3.90 -0.34
4.20 -0.29
4.40 -0.37
4.60 -0.32
3.75 -0.42
4.05 -0.47
4.70 -0.43
5.00 -0.31
4.30 -0.52
};

% ---------------- fitted lines ----------------
\addplot[fitline, mplgreen] coordinates {(-7,-0.077) (8,0.034)};
\addplot[fitline, mplblue] coordinates {(-7,-0.058) (8,0.040)};
\addplot[fitline, mplred] coordinates {(-7,-0.055) (8,0.0455)};
\end{axis}
\path ([shift={(-52.8bp,-38.2bp)}]current axis.south west) rectangle ([shift={(9.6bp,7.8bp)}]current axis.north east);
\end{tikzpicture}
\end{document}
